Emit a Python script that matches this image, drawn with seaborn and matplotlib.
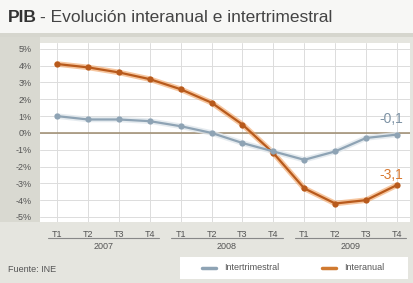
import matplotlib
matplotlib.use("Agg")
import matplotlib.pyplot as plt
import seaborn as sns
import pandas as pd
import numpy as np
from matplotlib.patches import Rectangle

quarters = ["T1", "T2", "T3", "T4"] * 3
years = ["2007", "2008", "2009"]
interanual = [4.1, 3.9, 3.6, 3.2, 2.6, 1.8, 0.5, -1.2, -3.3, -4.2, -4.0, -3.1]
intertrimestral = [1.0, 0.8, 0.8, 0.7, 0.4, 0.0, -0.6, -1.1, -1.6, -1.1, -0.3, -0.1]
ytick_vals = [5, 4, 3, 2, 1, 0, -1, -2, -3, -4, -5]

sns.set_theme(style="white")
plt.rcParams['font.family'] = ['Liberation Sans', 'DejaVu Sans']

bg = "#e5e5df"
orange = "#b85a1c"
orange_halo = "#f0a060"
blue = "#8ea3b4"

fig = plt.figure(figsize=(4.14, 2.83), dpi=100, facecolor=bg)
W, H = 414, 283

# title band
fig.patches.append(Rectangle((0, 1 - 33 / H), 1, 33 / H, transform=fig.transFigure,
                             facecolor="#f7f7f5", edgecolor="none", zorder=0))
fig.patches.append(Rectangle((0, 1 - 37 / H), 1, 4 / H, transform=fig.transFigure,
                             facecolor="#d6d6ce", edgecolor="none", zorder=0))
# left strip behind y labels
fig.patches.append(Rectangle((0, 1 - 222 / H), 40 / W, (222 - 37) / H, transform=fig.transFigure,
                             facecolor="#d9d9d1", edgecolor="none", zorder=0))

ax = fig.add_axes([40 / W, 1 - 222 / H, 370 / W, (222 - 43) / H])
ax.set_zorder(3)
ax.set_facecolor("white")

x = np.arange(len(interanual))
df = pd.DataFrame({"x": np.concatenate([x, x]),
                   "v": interanual + intertrimestral,
                   "serie": ["Interanual"] * len(x) + ["Intertrimestral"] * len(x)})

# halo under lines
sns.lineplot(data=df[df.serie == "Interanual"], x="x", y="v", ax=ax, color=orange_halo,
             lw=4.0, alpha=0.6, legend=False, zorder=3)
sns.lineplot(data=df[df.serie == "Intertrimestral"], x="x", y="v", ax=ax, color="#dfe6ec",
             lw=4.0, alpha=0.8, legend=False, zorder=3)
sns.lineplot(data=df, x="x", y="v", hue="serie", ax=ax,
             palette={"Interanual": orange, "Intertrimestral": blue},
             lw=1.6, marker="o", markersize=4.5, markeredgewidth=0, legend=False, zorder=4)

ax.axhline(0, color="#9c8a6e", lw=1.1, zorder=2)

ax.set_xlim(-0.55, 11.42)
ax.set_ylim(-5.3, 5.35)
ax.set_yticks(ytick_vals)
ax.set_yticklabels([f"{v}%" for v in ytick_vals], fontsize=6.5, color="#555555")
ax.set_xticks(x)
ax.set_xticklabels(quarters, fontsize=6.5, color="#555555")
ax.tick_params(axis="y", length=0, pad=6)
ax.tick_params(axis="x", length=0, pad=6)
ax.grid(True, color="#dcdcdc", lw=0.7, zorder=0)
for s in ax.spines.values():
    s.set_visible(False)
ax.set_xlabel("")
ax.set_ylabel("")

# year labels and separators
trans = ax.get_xaxis_transform()
for i, yr in enumerate(years):
    c = i * 4 + 1.5
    ax.plot([i * 4 - 0.3, i * 4 + 3.3], [-0.09, -0.09], transform=trans, color="#888888",
            lw=0.8, clip_on=False)
    ax.text(c, -0.11, yr, transform=trans, ha="center", va="top", fontsize=6.5, color="#555555")

ax.text(11.2, -0.1 + 0.5, "-0,1", ha="right", va="bottom", fontsize=10, color="#7d92a4")
ax.text(11.2, -3.1 + 0.2, "-3,1", ha="right", va="bottom", fontsize=10, color="#d8772e")

# title
fig.text(8 / W, 1 - 18 / H, "PIB", fontsize=12.5, fontweight="bold", color="#333333", va="center")
fig.text(40 / W, 1 - 18 / H, "- Evolución interanual e intertrimestral", fontsize=12.5,
         color="#444444", va="center")

fig.text(8 / W, 1 - 269 / H, "Fuente: INE", fontsize=6.5, color="#555555", va="center")

# legend box
fig.patches.append(Rectangle((180 / W, 1 - 279 / H), 228 / W, 22 / H, transform=fig.transFigure,
                             facecolor="white", edgecolor="none", zorder=1))
ly = 1 - 268 / H
fig.lines.append(plt.Line2D([202 / W, 216 / W], [ly, ly], transform=fig.transFigure,
                            color=blue, lw=2.5, zorder=2))
fig.text(224 / W, ly, "Intertrimestral", fontsize=6.5, color="#555555", va="center", zorder=2)
fig.lines.append(plt.Line2D([322 / W, 336 / W], [ly, ly], transform=fig.transFigure,
                            color="#d07a30", lw=2.5, zorder=2))
fig.text(344 / W, ly, "Interanual", fontsize=6.5, color="#555555", va="center", zorder=2)

fig.savefig("out.png", dpi=100, facecolor=bg)
